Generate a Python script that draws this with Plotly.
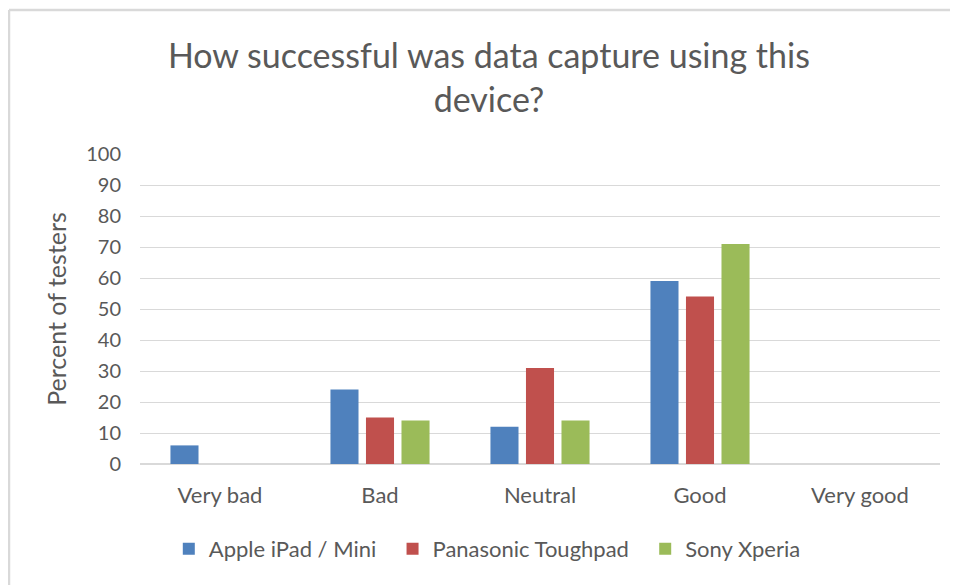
import plotly.graph_objects as go

categories = ["Very bad", "Bad", "Neutral", "Good", "Very good"]
apple = [6, 24, 12, 59, 0]
panasonic = [0, 15, 31, 54, 0]
sony = [0, 14, 14, 71, 0]
series_names = ["Apple iPad / Mini", "Panasonic Toughpad", "Sony Xperia"]
colors = ["#4F81BD", "#C0504D", "#9BBB59"]
y_ticks = list(range(0, 101, 10))

FONT = "Lato"
GRAY = "#595959"
PAD = "\u00a0\u00a0"

fig = go.Figure()
for name, vals, c in zip(series_names, [apple, panasonic, sony], colors):
    fig.add_trace(go.Bar(x=categories, y=vals, name=name + PAD, marker_color=c,
                         marker_line_width=0))

fig.update_layout(
    width=958, height=585,
    paper_bgcolor="white", plot_bgcolor="white",
    margin=dict(l=132, r=26, t=146, b=129),
    barmode="group", bargap=0.334, bargroupgap=0.21,
    title=dict(text="How successful was data capture using this<br>device?",
               x=0.502, xanchor="center", y=0.897, yanchor="middle",
               font=dict(family=FONT, size=34, color=GRAY)),
    font=dict(family=FONT, color=GRAY),
    yaxis=dict(range=[0, 100], tickvals=y_ticks, showgrid=True,
               gridcolor="#D9D9D9", gridwidth=1, zeroline=True,
               zerolinecolor="#D9D9D9", showline=False,
               tickfont=dict(size=20, color=GRAY), ticks="", ticklen=0,
               ticklabelstandoff=18,
               title=dict(text="Percent of testers", standoff=12,
                          font=dict(size=25, color=GRAY))),
    xaxis=dict(showline=False, ticks="", ticklabelstandoff=16,
               tickfont=dict(size=22, color=GRAY)),
    legend=dict(orientation="h", x=0.441, xanchor="center", y=-0.274,
                yanchor="middle", font=dict(size=22, color=GRAY),
                itemwidth=30, traceorder="normal"),
    shapes=[
        dict(type="line", xref="paper", yref="paper",
             x0=-0.16375, x1=1.05, y0=1.4645, y1=1.4645,
             line=dict(color="#D9D9D9", width=2.5)),
        dict(type="line", xref="paper", yref="paper",
             x0=-0.16375, x1=-0.16375, y0=-0.45, y1=1.4645,
             line=dict(color="#D9D9D9", width=2.5)),
    ],
)

fig.write_html("out.html")
